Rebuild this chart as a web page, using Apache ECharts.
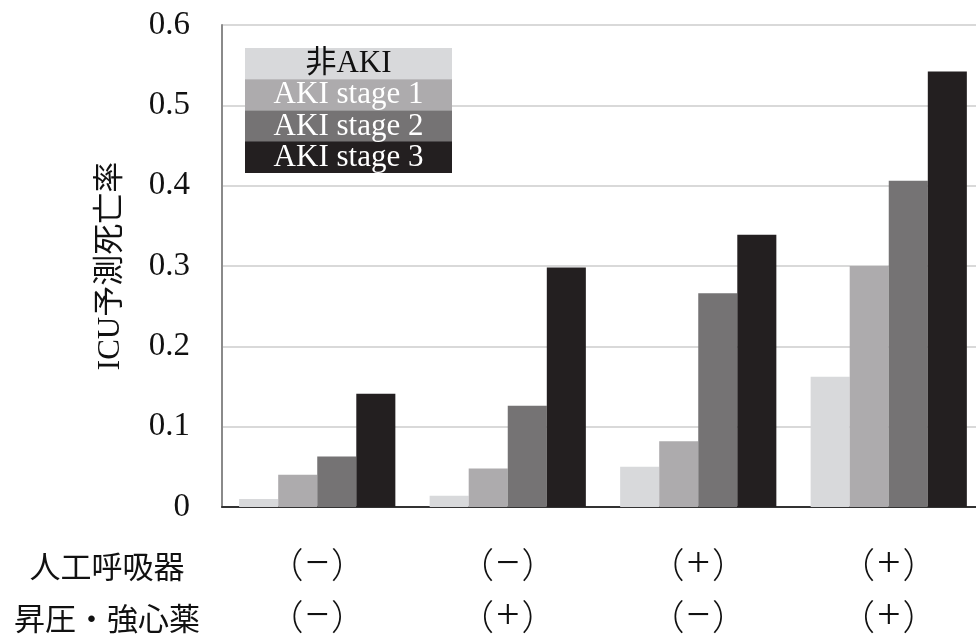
<!DOCTYPE html>
<html>
<head>
<meta charset="utf-8">
<script src="https://cdn.jsdelivr.net/npm/echarts@6/dist/echarts.min.js"></script>
<style>
  html, body { margin: 0; padding: 0; background: #ffffff; overflow: hidden; }
  #chart { width: 984px; height: 644px; }
</style>
</head>
<body>
<div id="chart"></div>
<script>
// Predicted ICU mortality by ventilation / vasopressor status and AKI stage
const ventilator = ['（−）', '（−）', '（+）', '（+）'];
const vasopressor = ['（−）', '（+）', '（−）', '（+）'];
const rowLabels = ['人工呼吸器', '昇圧・強心薬'];
const seriesNames = ['非AKI', 'AKI stage 1', 'AKI stage 2', 'AKI stage 3'];
const nonAKI = [0.010, 0.014, 0.050, 0.162];
const stage1 = [0.040, 0.048, 0.082, 0.300];
const stage2 = [0.063, 0.126, 0.266, 0.406];
const stage3 = [0.141, 0.298, 0.339, 0.542];
const yTicks = [0, 0.1, 0.2, 0.3, 0.4, 0.5, 0.6];

const colors = ['#d8d9db', '#adabad', '#757374', '#231f20'];
const legendText = ['#111111', '#ffffff', '#ffffff', '#ffffff'];
const seriesValues = [nonAKI, stage1, stage2, stage3];
const categories = ventilator.map((v, i) => v + '\n' + vasopressor[i]);

const serif = '"Liberation Serif", "Noto Sans CJK JP", serif';
const cjk = '"Noto Sans CJK JP", sans-serif';
const chart = echarts.init(document.getElementById('chart'));

// Legend block: stacked coloured rows with centred names
const legendGraphics = [];
seriesNames.forEach((name, i) => {
  legendGraphics.push({
    type: 'rect', left: 245, top: 48 + i * 31.2,
    shape: { width: 207, height: 31.5 },
    style: { fill: colors[i] }, z: 10
  });
  legendGraphics.push({
    type: 'text', x: 348.5, y: 48 + i * 31.2 + 16,
    style: {
      text: name, fill: legendText[i], font: '31px ' + serif,
      textAlign: 'center', textVerticalAlign: 'middle'
    }, z: 11
  });
});
rowLabels.forEach((t, i) => {
  legendGraphics.push({
    type: 'text', x: 107, y: 566 + i * 52,
    style: {
      text: t, fill: '#111111', font: '31px ' + cjk,
      textAlign: 'center', textVerticalAlign: 'middle'
    }
  });
});

// Each "(sign)" label: brackets and sign as separate rich-text pieces
const signLabel = s => `{p|${s[0]}}{m|${s[1]}}{p|${s[2]}}`;

chart.setOption({
  animation: false,
  backgroundColor: '#ffffff',
  grid: { left: 222, right: 0, top: 25, bottom: 137, containLabel: false },
  xAxis: {
    type: 'category',
    data: categories,
    axisLine: { show: true, lineStyle: { color: '#333333', width: 2 } },
    axisTick: { show: false },
    axisLabel: {
      interval: 0, margin: 32, lineHeight: 52,
      formatter: v => v.split('\n').map(signLabel).join('\n'),
      rich: {
        p: { color: '#111111', fontSize: 35, fontFamily: cjk, fontWeight: 300, lineHeight: 52 },
        m: { color: '#111111', fontSize: 42, fontFamily: serif, lineHeight: 52, padding: [0, 2] }
      }
    }
  },
  yAxis: {
    type: 'value',
    min: yTicks[0], max: yTicks[yTicks.length - 1], interval: 0.1,
    name: 'ICU予測死亡率',
    nameLocation: 'middle', nameGap: 96,
    nameTextStyle: { color: '#111111', fontSize: 31, fontFamily: serif },
    axisLine: { show: true, lineStyle: { color: '#8a8a8a', width: 2 } },
    axisTick: { show: false },
    splitLine: { show: true, lineStyle: { color: '#d9d9d9', width: 2 } },
    axisLabel: {
      color: '#111111', fontSize: 33, fontFamily: serif, margin: 32,
      formatter: v => String(Math.round(v * 10) / 10)
    }
  },
  series: seriesNames.map((name, i) => ({
    name: name,
    type: 'bar',
    data: seriesValues[i],
    barGap: '0%',
    barCategoryGap: '18%',
    itemStyle: { color: colors[i] }
  })),
  graphic: legendGraphics
});
</script>
</body>
</html>
